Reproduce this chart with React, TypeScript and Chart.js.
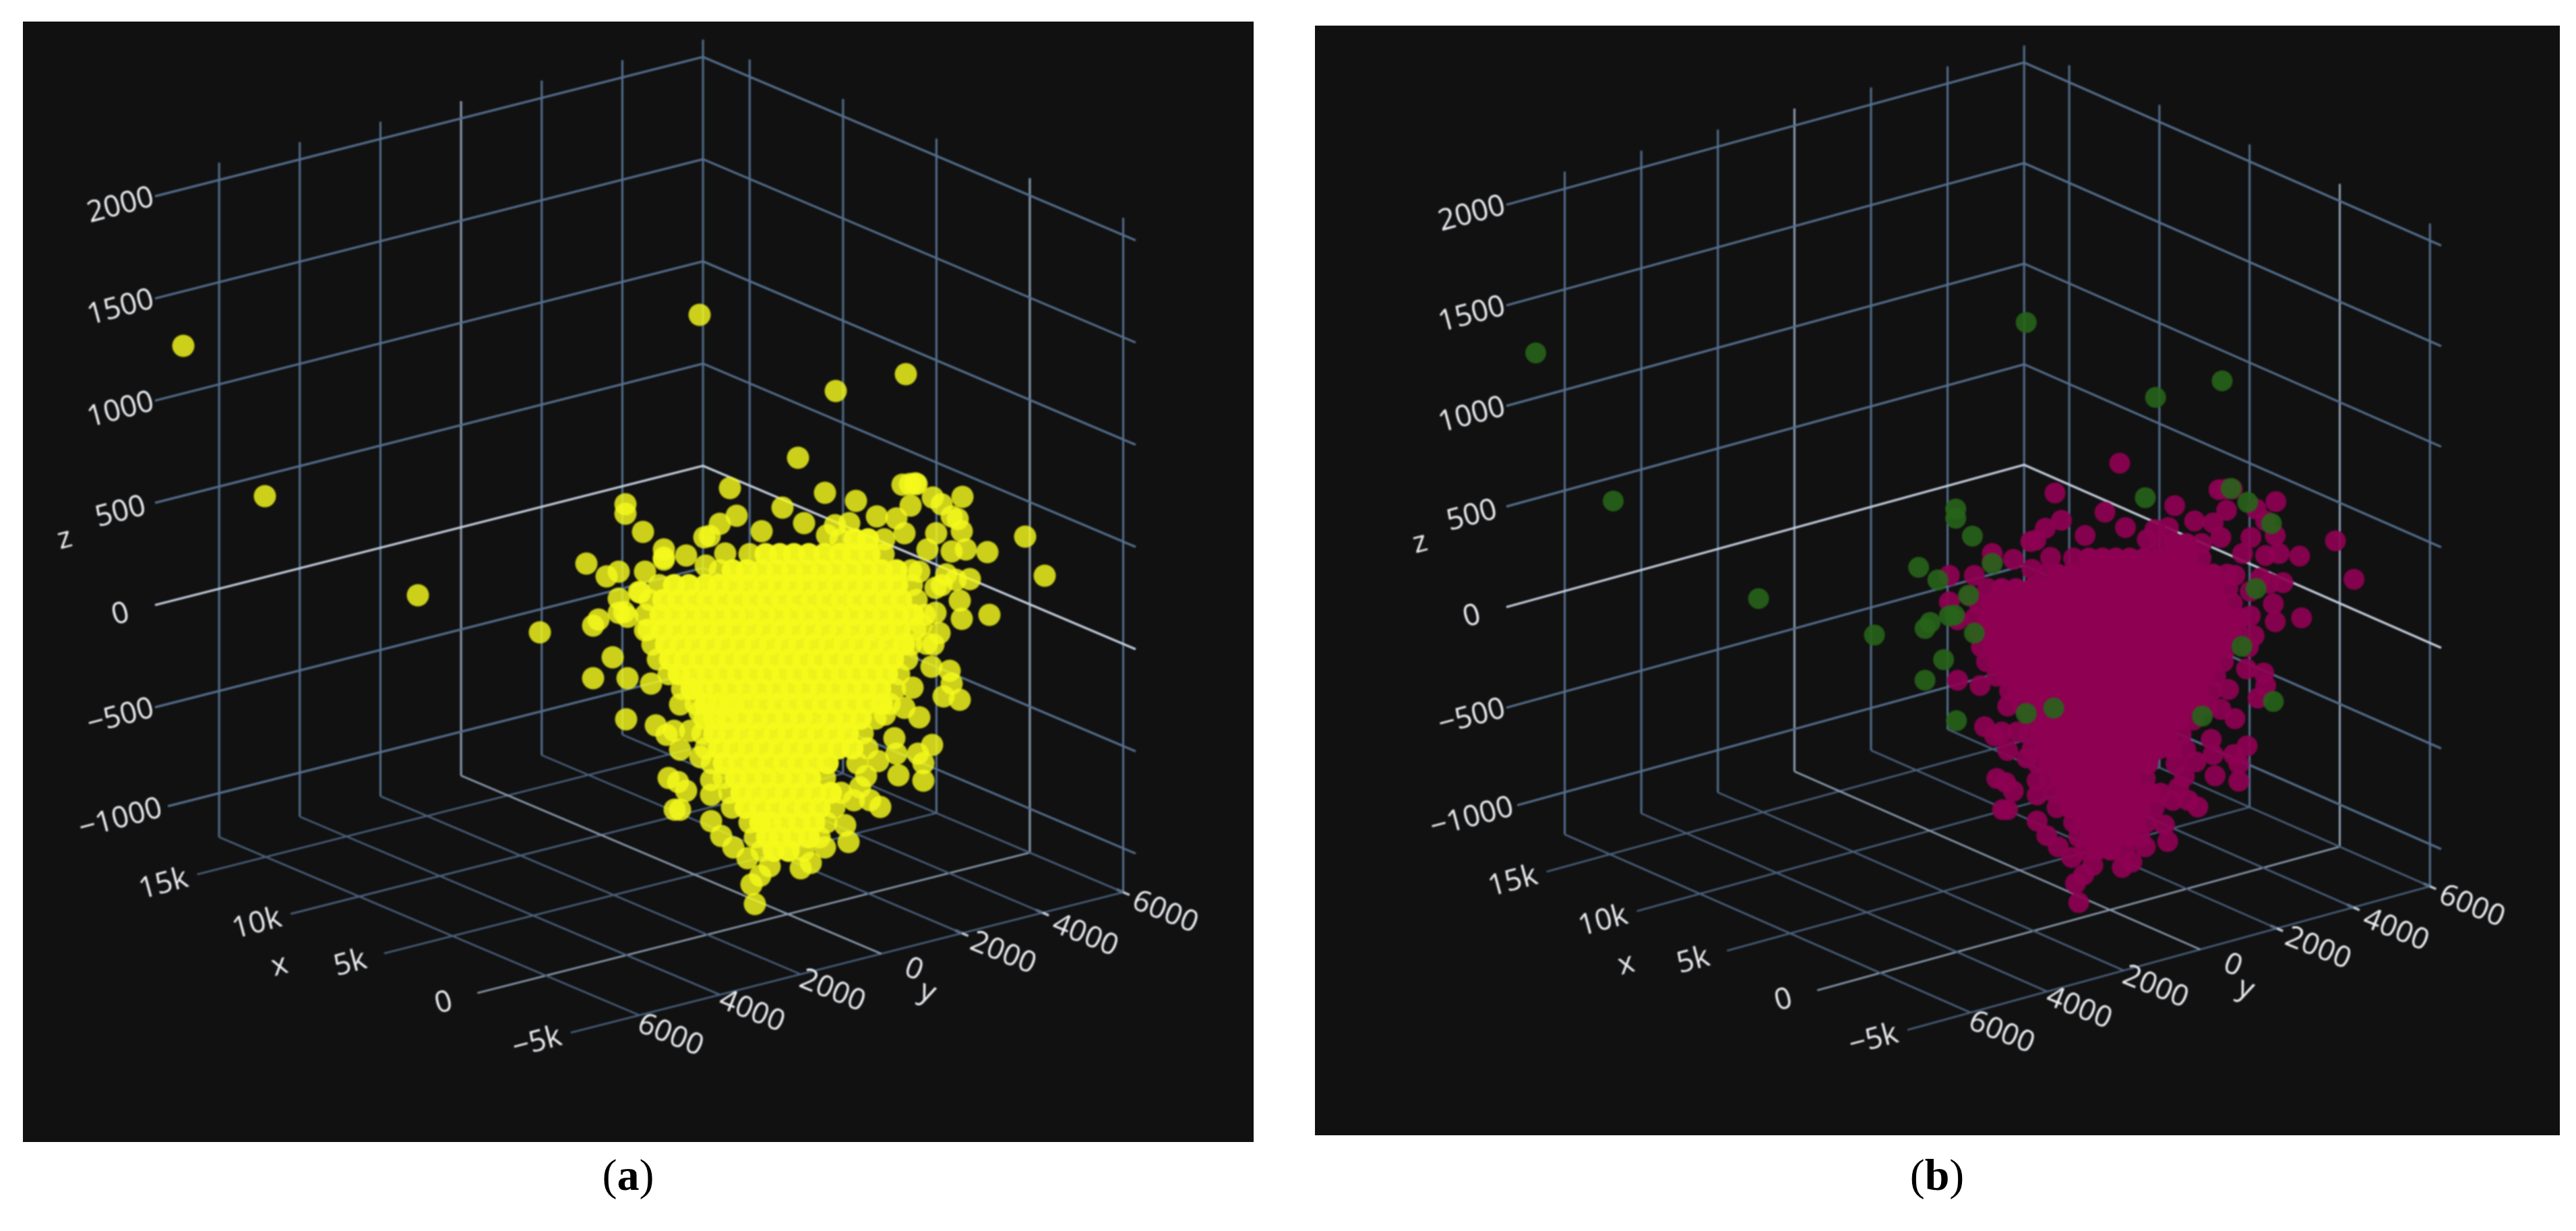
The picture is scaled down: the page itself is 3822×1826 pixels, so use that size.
import React, { useEffect, useRef } from "react";
import { Chart, registerables } from "chart.js";

Chart.register(...registerables);

// ---- axis ticks ----
const zTicks = [-1000, -500, 0, 500, 1000, 1500, 2000];
const zLabels = ["\u22121000", "\u2212500", "0", "500", "1000", "1500", "2000"];
const xTicks = [-5000, 0, 5000, 10000, 15000];
const xLabels = ["\u22125k", "0", "5k", "10k", "15k"];
const yTicks = [-6000, -4000, -2000, 0, 2000, 4000, 6000];
const yLabels = ["6000", "4000", "2000", "0", "2000", "4000", "6000"];

// ---- points, in the plane of the projected view ----
// isolated samples that panel (b) marks as the second class
const anomalyPoints: [number, number][] = [
  [272, 513], [393, 736], [620, 883], [801, 938], [870, 836], [900, 855], [928, 748], [928, 762],
  [918, 909], [888, 919], [880, 928], [909, 975], [880, 1006], [929, 1067], [1038, 467], [1240, 580],
  [1344, 555], [1224, 731], [1358, 717], [1384, 738], [954, 789], [1421, 770], [985, 830], [948, 878],
  [957, 935], [926, 908], [1397, 868], [1375, 955], [1424, 1038], [1313, 1060], [1038, 1056], [1081, 1048],
];
// outer samples of the main cluster
const fringePoints: [number, number][] = [
  [1083, 724], [1093, 765], [1161, 753], [1184, 679], [1193, 776], [1270, 743], [1130, 788], [1068, 777],
  [1045, 797], [1053, 795], [1018, 824], [1047, 839], [1076, 821], [1350, 718], [1339, 719], [1360, 718],
  [1351, 750], [1301, 766], [1330, 769], [1260, 776], [1239, 779], [1227, 794], [1342, 791], [1397, 748],
  [1428, 737], [1412, 766], [1427, 788], [1389, 791], [1433, 815], [1465, 819], [1412, 818], [1439, 859],
  [1521, 796], [1550, 854], [1468, 912], [1427, 918], [1388, 909], [1394, 939], [1364, 848], [1376, 815],
  [1404, 852], [1418, 860], [1424, 891], [1388, 872], [1367, 927], [1385, 956], [1409, 995], [1412, 1014],
  [1400, 1033], [1382, 989], [1354, 1020], [1364, 1064], [1342, 1050], [1383, 1105], [1362, 1118], [1370, 1132],
  [1370, 1158], [1333, 1150], [1327, 1095], [1330, 1118], [1306, 1197], [1285, 1151], [1276, 1168], [1291, 1187],
  [1267, 1187], [1303, 1129], [1254, 1224], [1259, 1249], [1224, 1257], [1203, 1280], [1188, 1288], [1142, 1285],
  [1128, 1299], [1115, 1312], [1120, 1341], [1109, 1273], [1088, 1257], [1070, 1240], [1055, 1218], [1055, 1179],
  [1055, 1157], [1009, 1201], [1018, 1173], [1006, 1160], [1039, 1123], [1024, 1084], [1009, 1045], [1000, 1084],
  [1009, 1112], [931, 1006], [973, 1076], [989, 1090], [992, 1154], [1001, 1201], [966, 1014], [918, 848],
  [985, 815], [985, 827], [957, 848], [918, 888], [931, 915], [950, 879],
];
// dense body of the main cluster: one row per v value, with its u values
const bodyRows: [number, number[]][] = [
  [800, [1247, 1268, 1288, 1312]],
  [822, [1112, 1136, 1157, 1178, 1200, 1223, 1246, 1267, 1290, 1311]],
  [846, [1068, 1087, 1108, 1131, 1153, 1175, 1197, 1219, 1241, 1263, 1286, 1308, 1330, 1352]],
  [868, [978, 1000, 1022, 1047, 1066, 1088, 1110, 1133, 1155, 1176, 1198, 1220, 1243, 1265, 1287, 1309, 1331, 1353]],
  [890, [964, 984, 1006, 1028, 1050, 1072, 1095, 1117, 1139, 1160, 1182, 1204, 1227, 1249, 1271, 1293, 1315, 1337, 1360]],
  [912, [958, 980, 1002, 1024, 1046, 1069, 1090, 1112, 1134, 1157, 1178, 1200, 1222, 1245, 1267, 1289, 1311, 1333, 1355, 1372]],
  [934, [962, 982, 1004, 1027, 1048, 1070, 1092, 1115, 1137, 1159, 1180, 1203, 1225, 1247, 1269, 1291, 1313, 1335, 1358]],
  [956, [968, 988, 1010, 1032, 1054, 1076, 1099, 1121, 1143, 1165, 1186, 1208, 1231, 1253, 1275, 1297, 1319, 1341, 1352]],
  [978, [976, 994, 1016, 1038, 1060, 1083, 1104, 1126, 1148, 1171, 1192, 1214, 1236, 1259, 1281, 1303, 1325, 1346]],
  [1000, [992, 1007, 1029, 1051, 1073, 1095, 1117, 1140, 1161, 1183, 1205, 1228, 1249, 1271, 1293, 1316, 1334]],
  [1022, [1012, 1026, 1042, 1064, 1086, 1108, 1130, 1153, 1174, 1196, 1218, 1241, 1262, 1284, 1306, 1328]],
  [1044, [1032, 1047, 1066, 1088, 1110, 1133, 1154, 1176, 1198, 1221, 1242, 1264, 1286, 1308, 1320]],
  [1066, [1045, 1060, 1079, 1101, 1123, 1146, 1167, 1189, 1211, 1234, 1255, 1277, 1299]],
  [1088, [1042, 1060, 1082, 1104, 1126, 1149, 1170, 1192, 1214, 1237, 1258, 1280]],
  [1110, [1047, 1067, 1089, 1111, 1133, 1156, 1177, 1199, 1221, 1244, 1265, 1287]],
  [1132, [1056, 1074, 1096, 1118, 1140, 1163, 1184, 1206, 1228, 1272]],
  [1154, [1074, 1092, 1114, 1136, 1159, 1180, 1202, 1224]],
  [1176, [1082, 1100, 1122, 1145, 1166, 1188, 1210, 1233, 1248]],
  [1198, [1086, 1106, 1128, 1151, 1172, 1194, 1216, 1238]],
  [1220, [1112, 1128, 1143, 1164, 1186, 1208, 1226]],
  [1242, [1120, 1138, 1157, 1178, 1200, 1216]],
  [1262, [1130, 1148, 1170, 1192]],
];

const toXY = (p: [number, number]) => ({ x: p[0], y: p[1] });
// the two ends of each body row sit on the cluster's edge, so they blend like the fringe
const clusterBody = bodyRows.flatMap(([v, us]) => us.slice(1, -1).map((u) => ({ x: u, y: v })));
const clusterFringe = [
  ...fringePoints.map(toXY),
  ...bodyRows.flatMap(([v, us]) => [{ x: us[0], y: v }, { x: us[us.length - 1], y: v }]),
];
const anomalies = anomalyPoints.map(toXY);

// ---- colours ----
const GRID_WALL = "#55708f";
const GRID_FLOOR = "#4b627f";
const ZERO_SOFT = "#8fa0b4";
const ZERO_STRONG = "#c8d4e3";
const TEXT = "#eef1f5";

type Vec = [number, number];
type PanelCfg = {
  left: number; top: number; w: number; h: number;
  viewX: Vec; viewY: Vec;
  o: Vec; ex: Vec; ey: Vec; ez: Vec;
  zFloor: number; zTop: number;
  xBack: number; xFront: number;
  yBack: number; yStart: number; yStartLow: number; yFloorStart: number;
  radius: number;
  body: string; main: string; other: string;
  titles: { t: string; px: Vec; rot: number }[];
  caption: string; captionX: number;
};

const panelA: PanelCfg = {
  left: 34, top: 32, w: 1826, h: 1662,
  viewX: [34, 1860], viewY: [1694, 32],
  o: [1169, 987.6], ex: [-138.55, -58.7], ey: [119.65, -30.4], ez: [0, -151.6],
  zFloor: -1215, zTop: 2085,
  xBack: 17500, xFront: -5666,
  yBack: 6000, yStart: -7590, yStartLow: -7270, yFloorStart: -7700,
  radius: 16.5,
  body: "rgba(245,250,28,0.97)", main: "rgba(245,250,28,0.82)", other: "rgba(245,250,28,0.82)",
  titles: [
    { t: "z", px: [96, 800], rot: -15 },
    { t: "x", px: [415, 1433], rot: -15 },
    { t: "y", px: [1376, 1472], rot: 22 },
  ],
  caption: "a", captionX: 932,
};

const panelB: PanelCfg = {
  left: 1951, top: 38, w: 1847, h: 1646,
  viewX: [-72.8, 1871.4], viewY: [1691.5, 19.9],
  o: [3130.7, 988.6], ex: [-133.8, -58.7], ey: [113.6, -31.2], ez: [0, -149.2],
  zFloor: -1210, zTop: 2085,
  xBack: 17500, xFront: -5624,
  yBack: 6000, yStart: -7525, yStartLow: -7243, yFloorStart: -7650,
  radius: 15.5,
  body: "rgba(142,1,82,1)", main: "rgba(142,1,82,0.92)", other: "rgba(39,100,25,0.9)",
  titles: [
    { t: "z", px: [2107, 806], rot: -15 },
    { t: "x", px: [2413, 1431], rot: -15 },
    { t: "y", px: [3332, 1467], rot: 22 },
  ],
  caption: "b", captionX: 2874,
};

const yLabelDx = [46, 47, 47, 48, 61, 63, 62];
const yLabelDy = [30, 25, 25, 24, 30, 34, 30];

function buildPanel(c: PanelCfg) {
  const project = (x: number, y: number, z: number): Vec => [
    c.o[0] + (x / 5000) * c.ex[0] + (y / 2000) * c.ey[0] + (z / 500) * c.ez[0],
    c.o[1] + (x / 5000) * c.ex[1] + (y / 2000) * c.ey[1] + (z / 500) * c.ez[1],
  ];
  // page pixel -> the plane's units of this panel
  const view = (p: Vec) => ({
    x: c.viewX[0] + ((p[0] - c.left) / c.w) * (c.viewX[1] - c.viewX[0]),
    y: c.viewY[1] + ((p[1] - c.top) / c.h) * (c.viewY[0] - c.viewY[1]),
  });
  const line = (pts: Vec[], color: string, width: number) => ({
    type: "scatter" as const,
    data: pts.map(view),
    showLine: true,
    pointRadius: 0,
    borderColor: color,
    borderWidth: width,
    order: 5,
  });

  const sets: any[] = [];
  zTicks.forEach((z) => {
    const ys = z === -1000 ? c.yStartLow : c.yStart;
    sets.push(
      line(
        [project(c.xBack, ys, z), project(c.xBack, c.yBack, z), project(c.xFront, c.yBack, z)],
        z === 0 ? ZERO_STRONG : GRID_WALL,
        3.2,
      ),
    );
  });
  yTicks.forEach((y) => {
    sets.push(line([project(c.xBack, y, c.zFloor), project(c.xBack, y, c.zTop)], y === 0 ? ZERO_SOFT : GRID_WALL, 3));
    sets.push(line([project(c.xBack, y, c.zFloor), project(-5000, y, c.zFloor)], y === 0 ? ZERO_SOFT : GRID_FLOOR, 2.6));
    if (y > 0)
      sets.push(line([project(-4650, y, c.zFloor), project(-5340, y, c.zFloor)], ZERO_STRONG, 3.4));
  });
  xTicks.forEach((x) => {
    sets.push(line([project(x, c.yBack, c.zFloor), project(x, c.yBack, c.zTop)], x === 0 ? ZERO_SOFT : GRID_WALL, 3));
    sets.push(line([project(x, c.yBack, c.zFloor), project(x, c.yFloorStart, c.zFloor)], x === 0 ? ZERO_SOFT : GRID_FLOOR, 2.6));
  });
  const cloud = (data: any[], color: string, order: number) => ({
    type: "scatter", data, pointRadius: c.radius, pointHoverRadius: c.radius,
    backgroundColor: color, borderWidth: 0, order,
  });
  sets.push(cloud(clusterFringe, c.main, 3));
  sets.push(cloud(clusterBody, c.body, 2));
  sets.push(cloud(anomalies, c.other, 1));

  const texts: { t: string; at: { x: number; y: number }; rot: number }[] = [];
  const shift = (p: Vec, dx: number, dy: number): Vec => [p[0] + dx, p[1] + dy];
  zTicks.forEach((z, i) =>
    texts.push({ t: zLabels[i], at: view(shift(project(c.xBack, c.yStart, z), -51, 14)), rot: -15 }),
  );
  xTicks.forEach((x, i) =>
    texts.push({ t: xLabels[i], at: view(shift(project(x, c.yFloorStart, c.zFloor), -50, 15)), rot: -15 }),
  );
  yTicks.forEach((y, i) =>
    texts.push({ t: yLabels[i], at: view(shift(project(-5000, y, c.zFloor), yLabelDx[i], yLabelDy[i])), rot: 22 }),
  );
  c.titles.forEach((t) => texts.push({ t: t.t, at: view(t.px), rot: t.rot }));
  return { sets, texts };
}

function Panel({ cfg }: { cfg: PanelCfg }) {
  const ref = useRef<HTMLCanvasElement>(null);
  useEffect(() => {
    const { sets, texts } = buildPanel(cfg);
    const labelPlugin = {
      id: "viewLabels",
      afterDraw(chart: any) {
        const ctx = chart.ctx;
        ctx.save();
        ctx.fillStyle = TEXT;
        ctx.font = '44px "Open Sans"';
        ctx.textAlign = "center";
        ctx.textBaseline = "middle";
        texts.forEach((l) => {
          ctx.save();
          ctx.translate(chart.scales.x.getPixelForValue(l.at.x), chart.scales.y.getPixelForValue(l.at.y));
          ctx.rotate((l.rot * Math.PI) / 180);
          ctx.fillText(l.t, 0, 0);
          ctx.restore();
        });
        ctx.restore();
      },
    };
    const chart = new Chart(ref.current as HTMLCanvasElement, {
      type: "scatter",
      data: { datasets: sets },
      options: {
        animation: false,
        responsive: false,
        devicePixelRatio: 1,
        events: [],
        layout: { padding: 0, autoPadding: false },
        plugins: { legend: { display: false }, tooltip: { enabled: false } },
        scales: {
          x: { type: "linear", display: false, min: cfg.viewX[0], max: cfg.viewX[1] },
          y: { type: "linear", display: false, min: cfg.viewY[1], max: cfg.viewY[0], reverse: true },
        },
      },
      plugins: [labelPlugin],
    } as any);
    return () => chart.destroy();
  }, [cfg]);
  return (
    <>
      <div
        style={{
          position: "absolute", left: cfg.left, top: cfg.top, width: cfg.w, height: cfg.h,
          background: "#111111", overflow: "hidden",
        }}
      >
        <canvas
          ref={ref}
          width={cfg.w}
          height={cfg.h}
          style={{ display: "block", width: cfg.w, height: cfg.h, filter: "blur(1px)" }}
        />
      </div>
      <div
        style={{
          position: "absolute", left: cfg.captionX - 100, width: 200, top: 1705, textAlign: "center",
          font: '66px "Liberation Serif", serif', color: "#000",
        }}
      >
        (<b>{cfg.caption}</b>)
      </div>
    </>
  );
}

export default function App() {
  return (
    <div style={{ position: "absolute", left: 0, top: 0, width: 3822, height: 1826, background: "#fff", overflow: "hidden" }}>
      <Panel cfg={panelA} />
      <Panel cfg={panelB} />
    </div>
  );
}
